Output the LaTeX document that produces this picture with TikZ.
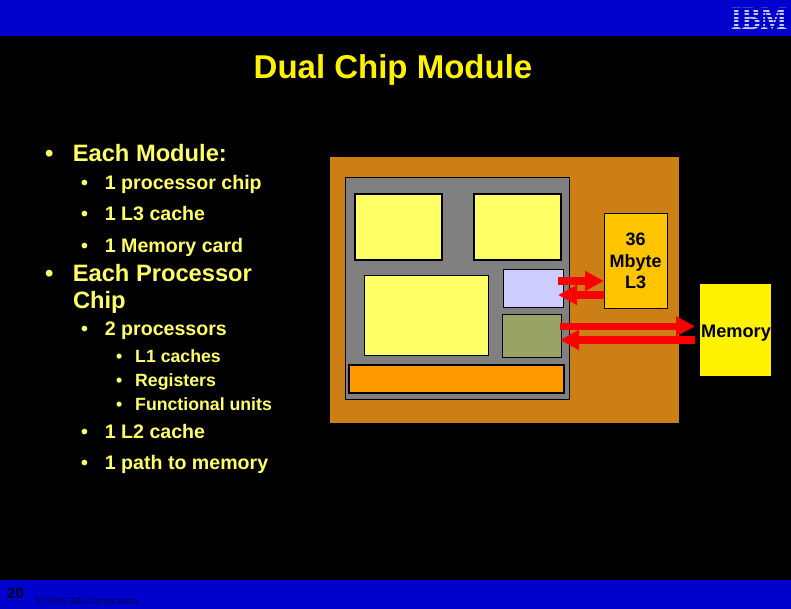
\documentclass[tikz,border=0pt]{standalone}
\usepackage{fontspec}
\setmainfont{Liberation Sans}
\newfontfamily\logofont{Liberation Serif}
\usetikzlibrary{arrows.meta}
\definecolor{barblue}{HTML}{0000CC}
\definecolor{softyellow}{HTML}{FFFF66}
\definecolor{boardorange}{HTML}{CC7F14}
\definecolor{chipgray}{HTML}{808080}
\definecolor{lav}{HTML}{CCCCFF}
\definecolor{olive}{HTML}{99A366}
\definecolor{barorange}{HTML}{FF9900}
\definecolor{lthree}{HTML}{FFC400}
\definecolor{bodytext}{HTML}{FFFF66}
\definecolor{logotext}{HTML}{C8C8F0}
\newcommand{\px}[1]{\fontsize{#1}{#1}\selectfont}
\tikzset{
  x=1pt,y=-1pt,
  box/.style={draw=black,line width=1pt,inner sep=0pt,outer sep=0pt},
  thickbox/.style={draw=black,line width=1.6pt,inner sep=0pt,outer sep=0pt},
  txt/.style={text=bodytext,anchor=base west,inner sep=0pt,outer sep=0pt},
  lone/.style={txt,font=\bfseries\px{23.7}},
  ltwo/.style={txt,font=\bfseries\px{19.6}},
  lthr/.style={txt,font=\bfseries\px{17.7}},
  bigarrow/.style={draw=red,line width=7.3pt,-{Triangle[length=19pt,width=19pt]}},
  inbox/.style={font=\bfseries\px{18},text=black,align=center}
}
\begin{document}
\begin{tikzpicture}
\useasboundingbox (0,0) rectangle (791,609);
\fill[black] (0,0) rectangle (791,609);
\fill[barblue] (0,0) rectangle (791,36);
\fill[barblue] (0,580) rectangle (791,609);
% logo
\node[anchor=center,inner sep=0pt,text=logotext,font=\logofont\bfseries\px{26}] (logo) at (759,19) {\scalebox{1.08}[1.25]{IBM}};
\foreach \yy in {9,12.5,16,19.5,23,26.5}{\draw[barblue,line width=1.1pt] (728,\yy) -- (790,\yy);}
% title
\node[anchor=base,inner sep=0pt,text=yellow,font=\bfseries\px{33}] (title) at (393,79) {Dual Chip Module};
% bullets
\node[lone] (b1) at (45,162) {•\hspace{19.5pt}Each Module:};
\node[ltwo] (s1) at (81,190) {•\hspace{17pt}1 processor chip};
\node[ltwo] (s2) at (81,221) {•\hspace{17pt}1 L3 cache};
\node[ltwo] (s3) at (81,252) {•\hspace{17pt}1 Memory card};
\node[lone] (b2) at (45,281) {•\hspace{19.5pt}Each Processor};
\node[lone] (b2b) at (73,308) {Chip};
\node[ltwo] (s4) at (81,335) {•\hspace{17pt}2 processors};
\node[lthr] (t1) at (116,362) {•\hspace{13pt}L1 caches};
\node[lthr] (t2) at (116,386) {•\hspace{13pt}Registers};
\node[lthr] (t3) at (116,410) {•\hspace{13pt}Functional units};
\node[ltwo] (s5) at (81,438) {•\hspace{17pt}1 L2 cache};
\node[ltwo] (s6) at (81,469) {•\hspace{17pt}1 path to memory};
% module
\fill[boardorange] (330,157) rectangle (679,423);
\draw[box,fill=chipgray] (345.5,177.5) rectangle (569.5,399.5);
\draw[thickbox,fill=softyellow] (355,194) rectangle (442,260);
\draw[thickbox,fill=softyellow] (474,194) rectangle (561,260);
\draw[box,fill=softyellow] (364.5,275.5) rectangle (488.5,355.5);
\draw[box,fill=lav] (503.5,269.5) rectangle (563.5,307.5);
\draw[box,fill=olive] (502.5,314.5) rectangle (561.5,357.5);
\draw[thickbox,fill=barorange] (349,365) rectangle (564,393);
% L3, memory
\node[box,fill=lthree,minimum width=63pt,minimum height=95pt,inbox] (l3) at (635.5,261) {36\\[3.5pt]Mbyte\\[3.5pt]L3};
\node[inner sep=0pt,outer sep=0pt,fill=yellow,minimum width=71pt,minimum height=92pt] (mem) at (735.5,330) {};
\node[font=\bfseries\px{18.2},text=black,inner sep=0pt] (memlabel) at (736,333) {Memory};
% arrows
\coordinate (a1s) at (558,281); \coordinate (a2e) at (558,295);
\coordinate (a3s) at (560,326.3); \coordinate (a4e) at (560,340);
\coordinate (a3e) at (695,326.3); \coordinate (a4s) at (695,340);
\draw[bigarrow] (a1s) -- (l3.west |- a1s);
\draw[bigarrow] (l3.west |- a2e) -- (a2e);
\draw[bigarrow] (a3s) -- (a3e);
\draw[bigarrow] (a4s) -- (a4e);
% footer
\node[anchor=base west,inner sep=0pt,font=\bfseries\px{15},text=black!85!blue] (pg) at (7,598) {20};
\node[anchor=base west,inner sep=0pt,font=\px{9.4},text=black!70!blue] (cp) at (36,604) {© 2005 IBM Corporation};
\end{tikzpicture}
\end{document}
